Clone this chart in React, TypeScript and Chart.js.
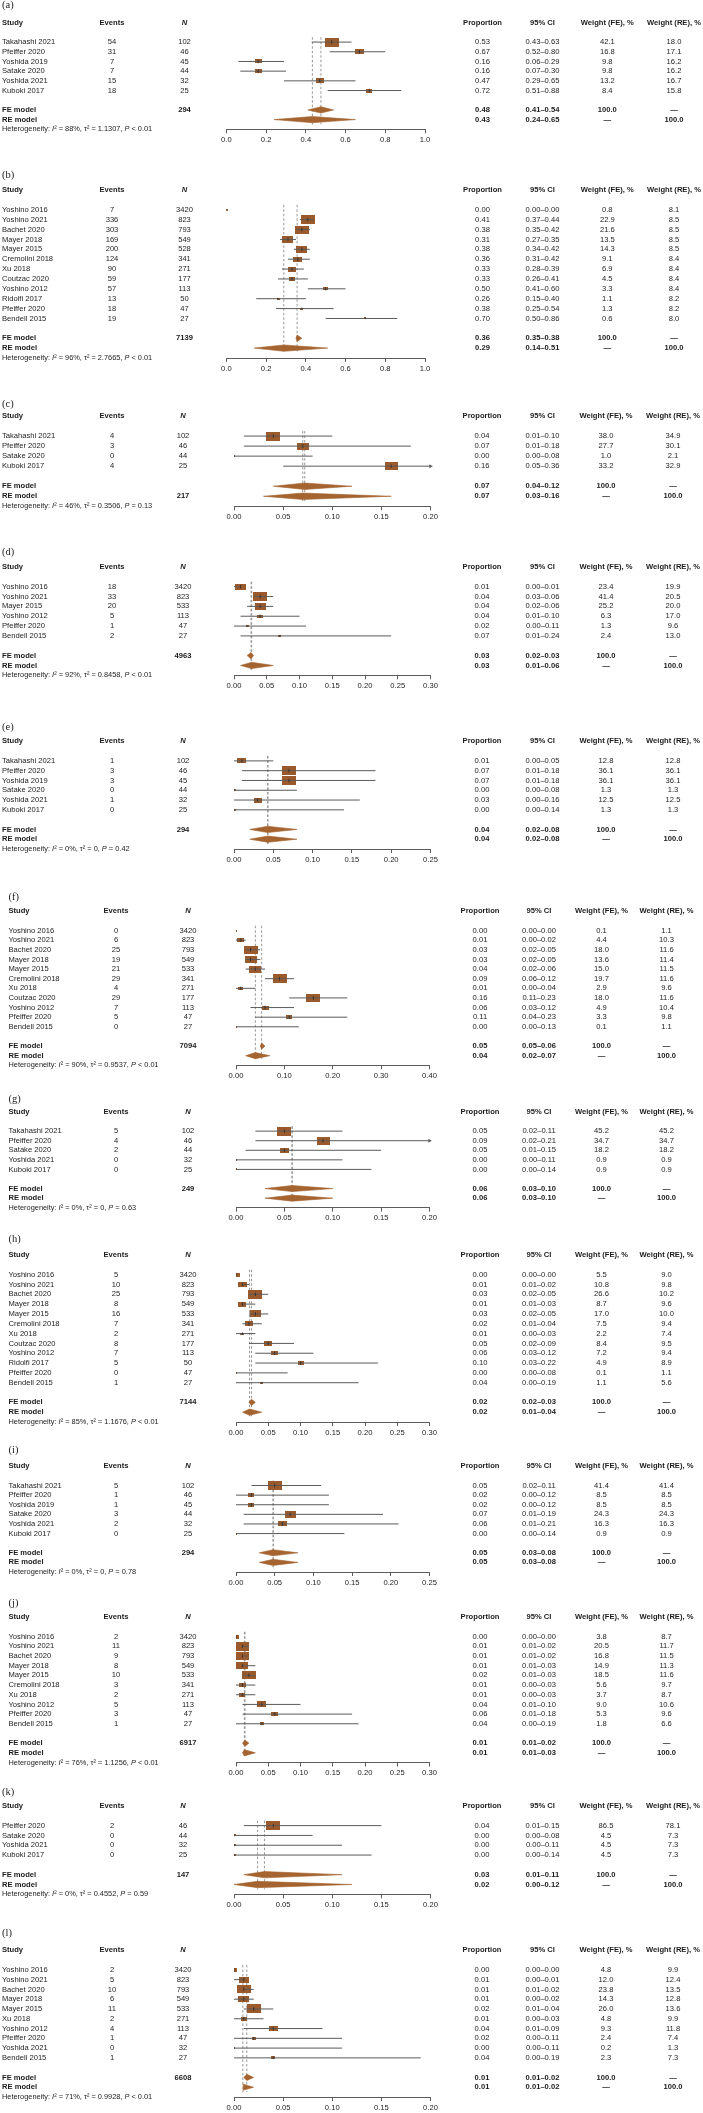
import React, { useEffect, useRef } from 'react';
import { Chart, registerables } from 'chart.js';

Chart.register(...registerables);

// ---------------- data ----------------
// (a)
const aStudy = ['Takahashi 2021', 'Pfeiffer 2020', 'Yoshida 2019', 'Satake 2020', 'Yoshida 2021', 'Kuboki 2017'];
const aEvents = [54, 31, 7, 7, 15, 18];
const aN = [102, 46, 45, 44, 32, 25];
const aProp = [0.53, 0.67, 0.16, 0.16, 0.47, 0.72];
const aLo = [0.43, 0.52, 0.06, 0.07, 0.29, 0.51];
const aHi = [0.63, 0.80, 0.29, 0.30, 0.65, 0.88];
const aWFE = [42.1, 16.8, 9.8, 9.8, 13.2, 8.4];
const aWRE = [18.0, 17.1, 16.2, 16.2, 16.7, 15.8];
const aTotal = 294;
const aFE = [0.476, 0.41, 0.54];
const aRE = [0.433, 0.24, 0.65];
const aHet = ['88%', '1.1307', '< 0.01'];
const aTicks = [0, 0.2, 0.4, 0.6, 0.8, 1.0];

// (b)
const bStudy = ['Yoshino 2016', 'Yoshino 2021', 'Bachet 2020', 'Mayer 2018', 'Mayer 2015', 'Cremolini 2018', 'Xu 2018', 'Coutzac 2020', 'Yoshino 2012', 'Ridolfi 2017', 'Pfeiffer 2020', 'Bendell 2015'];
const bEvents = [7, 336, 303, 169, 200, 124, 90, 59, 57, 13, 18, 19];
const bN = [3420, 823, 793, 549, 528, 341, 271, 177, 113, 50, 47, 27];
const bProp = [0.00, 0.41, 0.38, 0.31, 0.38, 0.36, 0.33, 0.33, 0.50, 0.26, 0.38, 0.70];
const bLo = [0.00, 0.37, 0.35, 0.27, 0.34, 0.31, 0.28, 0.26, 0.41, 0.15, 0.25, 0.50];
const bHi = [0.00, 0.44, 0.42, 0.35, 0.42, 0.42, 0.39, 0.41, 0.60, 0.40, 0.54, 0.86];
const bWFE = [0.8, 22.9, 21.6, 13.5, 14.3, 9.1, 6.9, 4.5, 3.3, 1.1, 1.3, 0.6];
const bWRE = [8.1, 8.5, 8.5, 8.5, 8.5, 8.4, 8.4, 8.4, 8.4, 8.2, 8.2, 8.0];
const bTotal = 7139;
const bFE = [0.356, 0.35, 0.38];
const bRE = [0.289, 0.14, 0.51];
const bHet = ['96%', '2.7665', '< 0.01'];
const bTicks = [0, 0.2, 0.4, 0.6, 0.8, 1.0];

// (c)
const cStudy = ['Takahashi 2021', 'Pfeiffer 2020', 'Satake 2020', 'Kuboki 2017'];
const cEvents = [4, 3, 0, 4];
const cN = [102, 46, 44, 25];
const cProp = [0.04, 0.07, 0.00, 0.16];
const cLo = [0.01, 0.01, 0.00, 0.05];
const cHi = [0.10, 0.18, 0.08, 0.36];
const cWFE = [38.0, 27.7, 1.0, 33.2];
const cWRE = [34.9, 30.1, 2.1, 32.9];
const cTotal = 217;
const cFE = [0.072, 0.04, 0.12];
const cRE = [0.070, 0.03, 0.16];
const cHet = ['46%', '0.3506', '= 0.13'];
const cTicks = [0, 0.05, 0.10, 0.15, 0.20];

// (d)
const dStudy = ['Yoshino 2016', 'Yoshino 2021', 'Mayer 2015', 'Yoshino 2012', 'Pfeiffer 2020', 'Bendell 2015'];
const dEvents = [18, 33, 20, 5, 1, 2];
const dN = [3420, 823, 533, 113, 47, 27];
const dProp = [0.01, 0.04, 0.04, 0.04, 0.02, 0.07];
const dLo = [0.00, 0.03, 0.02, 0.01, 0.00, 0.01];
const dHi = [0.01, 0.06, 0.06, 0.10, 0.11, 0.24];
const dWFE = [23.4, 41.4, 25.2, 6.3, 1.3, 2.4];
const dWRE = [19.9, 20.5, 20.0, 17.0, 9.6, 13.0];
const dTotal = 4963;
const dFE = [0.026, 0.02, 0.03];
const dRE = [0.027, 0.01, 0.06];
const dHet = ['92%', '0.8458', '< 0.01'];
const dTicks = [0, 0.05, 0.10, 0.15, 0.20, 0.25, 0.30];

// (e)
const eStudy = ['Takahashi 2021', 'Pfeiffer 2020', 'Yoshida 2019', 'Satake 2020', 'Yoshida 2021', 'Kuboki 2017'];
const eEvents = [1, 3, 3, 0, 1, 0];
const eN = [102, 46, 45, 44, 32, 25];
const eProp = [0.01, 0.07, 0.07, 0.00, 0.03, 0.00];
const eLo = [0.00, 0.01, 0.01, 0.00, 0.00, 0.00];
const eHi = [0.05, 0.18, 0.18, 0.08, 0.16, 0.14];
const eWFE = [12.8, 36.1, 36.1, 1.3, 12.5, 1.3];
const eWRE = [12.8, 36.1, 36.1, 1.3, 12.5, 1.3];
const eTotal = 294;
const eFE = [0.043, 0.02, 0.08];
const eRE = [0.043, 0.02, 0.08];
const eHet = ['0%', '0', '= 0.42'];
const eTicks = [0, 0.05, 0.10, 0.15, 0.20, 0.25];

// (f)
const fStudy = ['Yoshino 2016', 'Yoshino 2021', 'Bachet 2020', 'Mayer 2018', 'Mayer 2015', 'Cremolini 2018', 'Xu 2018', 'Coutzac 2020', 'Yoshino 2012', 'Pfeiffer 2020', 'Bendell 2015'];
const fEvents = [0, 6, 25, 19, 21, 29, 4, 29, 7, 5, 0];
const fN = [3420, 823, 793, 549, 533, 341, 271, 177, 113, 47, 27];
const fProp = [0.00, 0.01, 0.03, 0.03, 0.04, 0.09, 0.01, 0.16, 0.06, 0.11, 0.00];
const fLo = [0.00, 0.00, 0.02, 0.02, 0.02, 0.06, 0.00, 0.11, 0.03, 0.04, 0.00];
const fHi = [0.00, 0.02, 0.05, 0.05, 0.06, 0.12, 0.04, 0.23, 0.12, 0.23, 0.13];
const fWFE = [0.1, 4.4, 18.0, 13.6, 15.0, 19.7, 2.9, 18.0, 4.9, 3.3, 0.1];
const fWRE = [1.1, 10.3, 11.6, 11.4, 11.5, 11.6, 9.6, 11.6, 10.4, 9.8, 1.1];
const fTotal = 7094;
const fFE = [0.053, 0.05, 0.06];
const fRE = [0.040, 0.02, 0.07];
const fHet = ['90%', '0.9537', '< 0.01'];
const fTicks = [0, 0.10, 0.20, 0.30, 0.40];

// (g)
const gStudy = ['Takahashi 2021', 'Pfeiffer 2020', 'Satake 2020', 'Yoshida 2021', 'Kuboki 2017'];
const gEvents = [5, 4, 2, 0, 0];
const gN = [102, 46, 44, 32, 25];
const gProp = [0.05, 0.09, 0.05, 0.00, 0.00];
const gLo = [0.02, 0.02, 0.01, 0.00, 0.00];
const gHi = [0.11, 0.21, 0.15, 0.11, 0.14];
const gWFE = [45.2, 34.7, 18.2, 0.9, 0.9];
const gWRE = [45.2, 34.7, 18.2, 0.9, 0.9];
const gTotal = 249;
const gFE = [0.058, 0.03, 0.10];
const gRE = [0.058, 0.03, 0.10];
const gHet = ['0%', '0', '= 0.63'];
const gTicks = [0, 0.05, 0.10, 0.15, 0.20];

// (h)
const hStudy = ['Yoshino 2016', 'Yoshino 2021', 'Bachet 2020', 'Mayer 2018', 'Mayer 2015', 'Cremolini 2018', 'Xu 2018', 'Coutzac 2020', 'Yoshino 2012', 'Ridolfi 2017', 'Pfeiffer 2020', 'Bendell 2015'];
const hEvents = [5, 10, 25, 8, 16, 7, 2, 8, 7, 5, 0, 1];
const hN = [3420, 823, 793, 549, 533, 341, 271, 177, 113, 50, 47, 27];
const hProp = [0.00, 0.01, 0.03, 0.01, 0.03, 0.02, 0.01, 0.05, 0.06, 0.10, 0.00, 0.04];
const hLo = [0.00, 0.01, 0.02, 0.01, 0.02, 0.01, 0.00, 0.02, 0.03, 0.03, 0.00, 0.00];
const hHi = [0.00, 0.02, 0.05, 0.03, 0.05, 0.04, 0.03, 0.09, 0.12, 0.22, 0.08, 0.19];
const hWFE = [5.5, 10.8, 26.6, 8.7, 17.0, 7.5, 2.2, 8.4, 7.2, 4.9, 0.1, 1.1];
const hWRE = [9.0, 9.8, 10.2, 9.6, 10.0, 9.4, 7.4, 9.5, 9.4, 8.9, 1.1, 5.6];
const hTotal = 7144;
const hFE = [0.024, 0.02, 0.03];
const hRE = [0.021, 0.01, 0.04];
const hHet = ['85%', '1.1676', '< 0.01'];
const hTicks = [0, 0.05, 0.10, 0.15, 0.20, 0.25, 0.30];

// (i)
const iStudy = ['Takahashi 2021', 'Pfeiffer 2020', 'Yoshida 2019', 'Satake 2020', 'Yoshida 2021', 'Kuboki 2017'];
const iEvents = [5, 1, 1, 3, 2, 0];
const iN = [102, 46, 45, 44, 32, 25];
const iProp = [0.05, 0.02, 0.02, 0.07, 0.06, 0.00];
const iLo = [0.02, 0.00, 0.00, 0.01, 0.01, 0.00];
const iHi = [0.11, 0.12, 0.12, 0.19, 0.21, 0.14];
const iWFE = [41.4, 8.5, 8.5, 24.3, 16.3, 0.9];
const iWRE = [41.4, 8.5, 8.5, 24.3, 16.3, 0.9];
const iTotal = 294;
const iFE = [0.048, 0.03, 0.08];
const iRE = [0.048, 0.03, 0.08];
const iHet = ['0%', '0', '= 0.78'];
const iTicks = [0, 0.05, 0.10, 0.15, 0.20, 0.25];

// (j)
const jStudy = ['Yoshino 2016', 'Yoshino 2021', 'Bachet 2020', 'Mayer 2018', 'Mayer 2015', 'Cremolini 2018', 'Xu 2018', 'Yoshino 2012', 'Pfeiffer 2020', 'Bendell 2015'];
const jEvents = [2, 11, 9, 8, 10, 3, 2, 5, 3, 1];
const jN = [3420, 823, 793, 549, 533, 341, 271, 113, 47, 27];
const jProp = [0.00, 0.01, 0.01, 0.01, 0.02, 0.01, 0.01, 0.04, 0.06, 0.04];
const jLo = [0.00, 0.01, 0.01, 0.01, 0.01, 0.00, 0.00, 0.01, 0.01, 0.00];
const jHi = [0.00, 0.02, 0.02, 0.03, 0.03, 0.03, 0.03, 0.10, 0.18, 0.19];
const jWFE = [3.8, 20.5, 16.8, 14.9, 18.5, 5.6, 3.7, 9.0, 5.3, 1.8];
const jWRE = [8.7, 11.7, 11.5, 11.3, 11.6, 9.7, 8.7, 10.6, 9.6, 6.6];
const jTotal = 6917;
const jFE = [0.014, 0.01, 0.02];
const jRE = [0.013, 0.01, 0.03];
const jHet = ['76%', '1.1256', '< 0.01'];
const jTicks = [0, 0.05, 0.10, 0.15, 0.20, 0.25, 0.30];

// (k)
const kStudy = ['Pfeiffer 2020', 'Satake 2020', 'Yoshida 2021', 'Kuboki 2017'];
const kEvents = [2, 0, 0, 0];
const kN = [46, 44, 32, 25];
const kProp = [0.04, 0.00, 0.00, 0.00];
const kLo = [0.01, 0.00, 0.00, 0.00];
const kHi = [0.15, 0.08, 0.11, 0.14];
const kWFE = [86.5, 4.5, 4.5, 4.5];
const kWRE = [78.1, 7.3, 7.3, 7.3];
const kTotal = 147;
const kFE = [0.031, 0.01, 0.11];
const kRE = [0.024, 0.00, 0.12];
const kHet = ['0%', '0.4552', '= 0.59'];
const kTicks = [0, 0.05, 0.10, 0.15, 0.20];

// (l)
const lStudy = ['Yoshino 2016', 'Yoshino 2021', 'Bachet 2020', 'Mayer 2018', 'Mayer 2015', 'Xu 2018', 'Yoshino 2012', 'Pfeiffer 2020', 'Yoshida 2021', 'Bendell 2015'];
const lEvents = [2, 5, 10, 6, 11, 2, 4, 1, 0, 1];
const lN = [3420, 823, 793, 549, 533, 271, 113, 47, 32, 27];
const lProp = [0.00, 0.01, 0.01, 0.01, 0.02, 0.01, 0.04, 0.02, 0.00, 0.04];
const lLo = [0.00, 0.00, 0.01, 0.00, 0.01, 0.00, 0.01, 0.00, 0.00, 0.00];
const lHi = [0.00, 0.01, 0.02, 0.02, 0.04, 0.03, 0.09, 0.11, 0.11, 0.19];
const lWFE = [4.8, 12.0, 23.8, 14.3, 26.0, 4.8, 9.3, 2.4, 0.2, 2.3];
const lWRE = [9.9, 12.4, 13.5, 12.8, 13.6, 9.9, 11.8, 7.4, 1.3, 7.3];
const lTotal = 6608;
const lFE = [0.013, 0.01, 0.02];
const lRE = [0.009, 0.01, 0.02];
const lHet = ['71%', '0.9928', '< 0.01'];
const lTicks = [0, 0.05, 0.10, 0.15, 0.20];

// ---------------- layout / style ----------------
const W = 703;
const PAGE_H = 2113;
const LABEL_PAD = 8;
const SANS = "'Liberation Sans', Arial, Helvetica, sans-serif";
const SERIF = "'Liberation Serif', 'Times New Roman', serif";
const TEXT = '#1c1c1c';
const AXIS = '#4a4a4a';
const CI_COLOR = '#5a5a5a';
const REF_COLOR = '#8c8c8c';
const BOX_FILL = '#9b5a2b';
const DIA_FILL = '#a5632f';
const BOX_MAX = 14.3;
const BOX_RATIO = 0.6;
const DIA_HALF = 0.32;
const FS = 7.6;

const LAYOUT_A = { study: 2, events: 112, n: 184.5, left: 226.4, right: 425, prop: 482.5, ci: 542.5, wfe: 607.3, wre: 674 };
const LAYOUT_B = { study: 2, events: 112, n: 183, left: 234, right: 430.5, prop: 482, ci: 542.5, wfe: 606, wre: 673 };
const LAYOUT_C = { study: 8.5, events: 116, n: 188, left: 236, right: 429.5, prop: 480, ci: 539, wfe: 601.5, wre: 666.5 };

// [label y, header y, axis y]
const FRAMES = [
  [5, 22.7, 129.3],
  [175, 190, 358],
  [403.7, 416, 506.3],
  [552.3, 567, 675.3],
  [726.7, 741.3, 849],
  [896.7, 911.3, 1065.3],
  [1098.7, 1112, 1207.7],
  [1239, 1255, 1422],
  [1450.3, 1466.3, 1572],
  [1603.3, 1617.3, 1762.5],
  [1791.7, 1806, 1894.3],
  [1933, 1950.3, 2097],
];

const PANELS = [
  { label: '(a)', study: aStudy, events: aEvents, n: aN, prop: aProp, lo: aLo, hi: aHi, wfe: aWFE, wre: aWRE, total: aTotal, totalRow: 'FE', fe: aFE, re: aRE, het: aHet, ticks: aTicks, dec: 1, layout: LAYOUT_A },
  { label: '(b)', study: bStudy, events: bEvents, n: bN, prop: bProp, lo: bLo, hi: bHi, wfe: bWFE, wre: bWRE, total: bTotal, totalRow: 'FE', fe: bFE, re: bRE, het: bHet, ticks: bTicks, dec: 1, layout: LAYOUT_A },
  { label: '(c)', study: cStudy, events: cEvents, n: cN, prop: cProp, lo: cLo, hi: cHi, wfe: cWFE, wre: cWRE, total: cTotal, totalRow: 'RE', fe: cFE, re: cRE, het: cHet, ticks: cTicks, dec: 2, layout: LAYOUT_B },
  { label: '(d)', study: dStudy, events: dEvents, n: dN, prop: dProp, lo: dLo, hi: dHi, wfe: dWFE, wre: dWRE, total: dTotal, totalRow: 'FE', fe: dFE, re: dRE, het: dHet, ticks: dTicks, dec: 2, layout: LAYOUT_B },
  { label: '(e)', study: eStudy, events: eEvents, n: eN, prop: eProp, lo: eLo, hi: eHi, wfe: eWFE, wre: eWRE, total: eTotal, totalRow: 'FE', fe: eFE, re: eRE, het: eHet, ticks: eTicks, dec: 2, layout: LAYOUT_B },
  { label: '(f)', study: fStudy, events: fEvents, n: fN, prop: fProp, lo: fLo, hi: fHi, wfe: fWFE, wre: fWRE, total: fTotal, totalRow: 'FE', fe: fFE, re: fRE, het: fHet, ticks: fTicks, dec: 2, layout: LAYOUT_C },
  { label: '(g)', study: gStudy, events: gEvents, n: gN, prop: gProp, lo: gLo, hi: gHi, wfe: gWFE, wre: gWRE, total: gTotal, totalRow: 'FE', fe: gFE, re: gRE, het: gHet, ticks: gTicks, dec: 2, layout: LAYOUT_C },
  { label: '(h)', study: hStudy, events: hEvents, n: hN, prop: hProp, lo: hLo, hi: hHi, wfe: hWFE, wre: hWRE, total: hTotal, totalRow: 'FE', fe: hFE, re: hRE, het: hHet, ticks: hTicks, dec: 2, layout: LAYOUT_C },
  { label: '(i)', study: iStudy, events: iEvents, n: iN, prop: iProp, lo: iLo, hi: iHi, wfe: iWFE, wre: iWRE, total: iTotal, totalRow: 'FE', fe: iFE, re: iRE, het: iHet, ticks: iTicks, dec: 2, layout: LAYOUT_C },
  { label: '(j)', study: jStudy, events: jEvents, n: jN, prop: jProp, lo: jLo, hi: jHi, wfe: jWFE, wre: jWRE, total: jTotal, totalRow: 'FE', fe: jFE, re: jRE, het: jHet, ticks: jTicks, dec: 2, layout: LAYOUT_C },
  { label: '(k)', study: kStudy, events: kEvents, n: kN, prop: kProp, lo: kLo, hi: kHi, wfe: kWFE, wre: kWRE, total: kTotal, totalRow: 'FE', fe: kFE, re: kRE, het: kHet, ticks: kTicks, dec: 2, layout: LAYOUT_B },
  { label: '(l)', study: lStudy, events: lEvents, n: lN, prop: lProp, lo: lLo, hi: lHi, wfe: lWFE, wre: lWRE, total: lTotal, totalRow: 'FE', fe: lFE, re: lRE, het: lHet, ticks: lTicks, dec: 2, layout: LAYOUT_B },
];

// ---------------- helpers ----------------
function boxImage(w: number, h: number): HTMLCanvasElement {
  const c = document.createElement('canvas');
  c.width = Math.max(2, Math.round(w));
  c.height = Math.max(2, Math.round(h));
  const g = c.getContext('2d') as CanvasRenderingContext2D;
  g.fillStyle = BOX_FILL;
  g.fillRect(0, 0, c.width, c.height);
  return c;
}

function tablePlugin(p: any) {
  return {
    id: 'forestTable',
    afterDraw(chart: any) {
      const ctx = chart.ctx as CanvasRenderingContext2D;
      const ys = chart.scales.y;
      const L = p.layout;
      const n = p.study.length;
      const yp = (r: number) => ys.getPixelForValue(r);
      const F = `${FS}px ${SANS}`;
      const FB = `bold ${FS}px ${SANS}`;
      const FBI = `italic bold ${FS}px ${SANS}`;
      const FH = `7.4px ${SANS}`;
      const FHI = `italic 7.4px ${SANS}`;
      const put = (s: string, x: number, y: number, align: CanvasTextAlign, font: string) => {
        ctx.font = font;
        ctx.textAlign = align;
        ctx.fillText(s, x, y);
      };
      ctx.save();
      ctx.fillStyle = TEXT;
      ctx.textBaseline = 'middle';
      // panel label
      put(p.label, L.study, LABEL_PAD, 'left', `10.5px ${SERIF}`);
      // header
      const hy = yp(-2);
      put('Study', L.study, hy, 'left', FB);
      put('Events', L.events, hy, 'center', FB);
      put('N', L.n, hy, 'center', FBI);
      put('Proportion', L.prop, hy, 'center', FB);
      put('95% CI', L.ci, hy, 'center', FB);
      put('Weight (FE), %', L.wfe, hy, 'center', FB);
      put('Weight (RE), %', L.wre, hy, 'center', FB);
      // studies
      for (let i = 0; i < n; i++) {
        const y = yp(i);
        put(p.study[i], L.study, y, 'left', F);
        put(String(p.events[i]), L.events, y, 'center', F);
        put(String(p.n[i]), L.n, y, 'center', F);
        put(p.prop[i].toFixed(2), L.prop, y, 'center', F);
        put(`${p.lo[i].toFixed(2)}\u2013${p.hi[i].toFixed(2)}`, L.ci, y, 'center', F);
        put(p.wfe[i].toFixed(1), L.wfe, y, 'center', F);
        put(p.wre[i].toFixed(1), L.wre, y, 'center', F);
      }
      // summary rows
      const fy = yp(n + 1);
      const ry = yp(n + 2);
      put('FE model', L.study, fy, 'left', FB);
      put('RE model', L.study, ry, 'left', FB);
      put(String(p.total), L.n, p.totalRow === 'FE' ? fy : ry, 'center', FB);
      put(p.fe[0].toFixed(2), L.prop, fy, 'center', FB);
      put(`${p.fe[1].toFixed(2)}\u2013${p.fe[2].toFixed(2)}`, L.ci, fy, 'center', FB);
      put('100.0', L.wfe, fy, 'center', FB);
      put('\u2014', L.wre, fy, 'center', FB);
      put(p.re[0].toFixed(2), L.prop, ry, 'center', FB);
      put(`${p.re[1].toFixed(2)}\u2013${p.re[2].toFixed(2)}`, L.ci, ry, 'center', FB);
      put('\u2014', L.wfe, ry, 'center', FB);
      put('100.0', L.wre, ry, 'center', FB);
      // heterogeneity
      const hetY = yp(n + 3);
      const parts: [string, string][] = [
        ['Heterogeneity: ', FH],
        ['I', FHI],
        [`\u00B2 = ${p.het[0]}, \u03C4\u00B2 = ${p.het[1]}, `, FH],
        ['P', FHI],
        [` ${p.het[2]}`, FH],
      ];
      let x = L.study;
      ctx.textAlign = 'left';
      for (const [s, f] of parts) {
        ctx.font = f;
        ctx.fillText(s, x, hetY);
        x += ctx.measureText(s).width;
      }
      ctx.restore();
    },
  };
}

function buildConfig(p: any, padTop: number, xAxisH: number) {
  const L = p.layout;
  const n = p.study.length;
  const xmin = p.ticks[0];
  const xmax = p.ticks[p.ticks.length - 1];
  const maxW = Math.max(...p.wfe);
  const boxW = p.wfe.map((w: number) => BOX_MAX * Math.sqrt(w / maxW));
  const images = boxW.map((w: number) => boxImage(w, w * BOX_RATIO));
  const datasets: any[] = [];

  // diamonds (upper half filled to lower half)
  const summaries = [[p.fe, n + 1], [p.re, n + 2]];
  for (const [s, row] of summaries as any) {
    datasets.push({
      data: [{ x: s[1], y: row }, { x: s[0], y: row - DIA_HALF }, { x: s[2], y: row }],
      showLine: true, borderWidth: 0.6, borderColor: DIA_FILL, backgroundColor: DIA_FILL,
      fill: '+1', pointRadius: 0, order: 4,
    });
    datasets.push({
      data: [{ x: s[1], y: row }, { x: s[0], y: row + DIA_HALF }, { x: s[2], y: row }],
      showLine: true, borderWidth: 0.6, borderColor: DIA_FILL, backgroundColor: DIA_FILL,
      fill: false, pointRadius: 0, order: 4,
    });
  }
  // reference lines at pooled estimates
  for (const s of [p.fe, p.re]) {
    datasets.push({
      data: [{ x: s[0], y: -0.5 }, { x: s[0], y: n + 2.5 }],
      showLine: true, borderColor: REF_COLOR, borderWidth: 0.9, borderDash: [2.5, 2],
      pointRadius: 0, order: 5,
    });
  }
  // study boxes
  datasets.push({
    data: p.prop.map((v: number, i: number) => ({ x: v, y: i })),
    pointStyle: (c: any) => (c.dataIndex === undefined ? 'rect' : images[c.dataIndex]),
    pointRadius: 4, order: 2,
  });
  // confidence interval lines
  p.prop.forEach((_: number, i: number) => {
    datasets.push({
      data: [{ x: p.lo[i], y: i }, { x: p.hi[i], y: i }],
      showLine: true, borderColor: CI_COLOR, borderWidth: 1, pointRadius: 0, order: 1,
    });
  });
  // estimate tick inside box
  datasets.push({
    data: p.prop.map((v: number, i: number) => ({ x: v, y: i })),
    pointStyle: 'line', rotation: 90,
    pointRadius: (c: any) => Math.min(1.8, ((boxW[c.dataIndex] || 2) * BOX_RATIO) / 2),
    borderColor: '#2a2a2a', borderWidth: 0.8, order: 0,
  });
  // arrows for CIs beyond the axis
  const arrows = p.hi
    .map((h: number, i: number) => (h > xmax ? { x: xmax, y: i } : null))
    .filter((v: any) => v !== null);
  if (arrows.length) {
    datasets.push({
      data: arrows, pointStyle: 'triangle', rotation: 90, pointRadius: 2.3,
      backgroundColor: CI_COLOR, borderColor: CI_COLOR, borderWidth: 0, clip: false, order: 0,
    });
  }

  return {
    type: 'scatter',
    data: { datasets },
    options: {
      responsive: false,
      maintainAspectRatio: false,
      animation: false,
      events: [],
      layout: { padding: { left: L.left, right: W - L.right, top: padTop, bottom: 0 } },
      scales: {
        x: {
          type: 'linear',
          min: xmin,
          max: xmax,
          afterBuildTicks: (s: any) => {
            s.ticks = p.ticks.map((v: number) => ({ value: v }));
          },
          afterFit: (s: any) => {
            s.height = xAxisH;
          },
          grid: { display: true, drawOnChartArea: false, drawTicks: true, tickLength: 4, color: AXIS, lineWidth: 0.9 },
          border: { display: true, color: AXIS, width: 0.9 },
          ticks: {
            font: { family: SANS, size: FS },
            color: TEXT,
            padding: 2,
            maxRotation: 0,
            autoSkip: false,
            callback: (v: any) => Number(v).toFixed(p.dec),
          },
        },
        y: { type: 'linear', display: false, reverse: true, min: -2, max: n + 3 },
      },
      plugins: {
        legend: { display: false },
        tooltip: { enabled: false },
      },
    },
    plugins: [tablePlugin(p)],
  };
}

function ForestPanel({ panel, frame }: any) {
  const ref = useRef<HTMLCanvasElement>(null);
  const [labelY, headerY, axisY] = frame;
  const top = Math.round(labelY - LABEL_PAD);
  const height = Math.min(PAGE_H - top, Math.round(axisY + 16 - top));
  const xAxisH = height - (axisY - top);
  useEffect(() => {
    const chart = new Chart(ref.current as HTMLCanvasElement, buildConfig(panel, headerY - top, xAxisH) as any);
    return () => chart.destroy();
  }, []);
  return (
    <canvas
      ref={ref}
      width={W}
      height={height}
      style={{ position: 'absolute', left: 0, top, width: W, height, display: 'block' }}
    />
  );
}

export default function App() {
  useEffect(() => {
    document.body.style.margin = '0';
    document.body.style.overflow = 'hidden';
  }, []);
  return (
    <div style={{ position: 'relative', width: W, height: PAGE_H, overflow: 'hidden', background: '#ffffff' }}>
      <style>{'body{margin:0;overflow:hidden;background:#fff}'}</style>
      {PANELS.map((p, i) => (
        <ForestPanel key={i} panel={p} frame={FRAMES[i]} />
      ))}
    </div>
  );
}
